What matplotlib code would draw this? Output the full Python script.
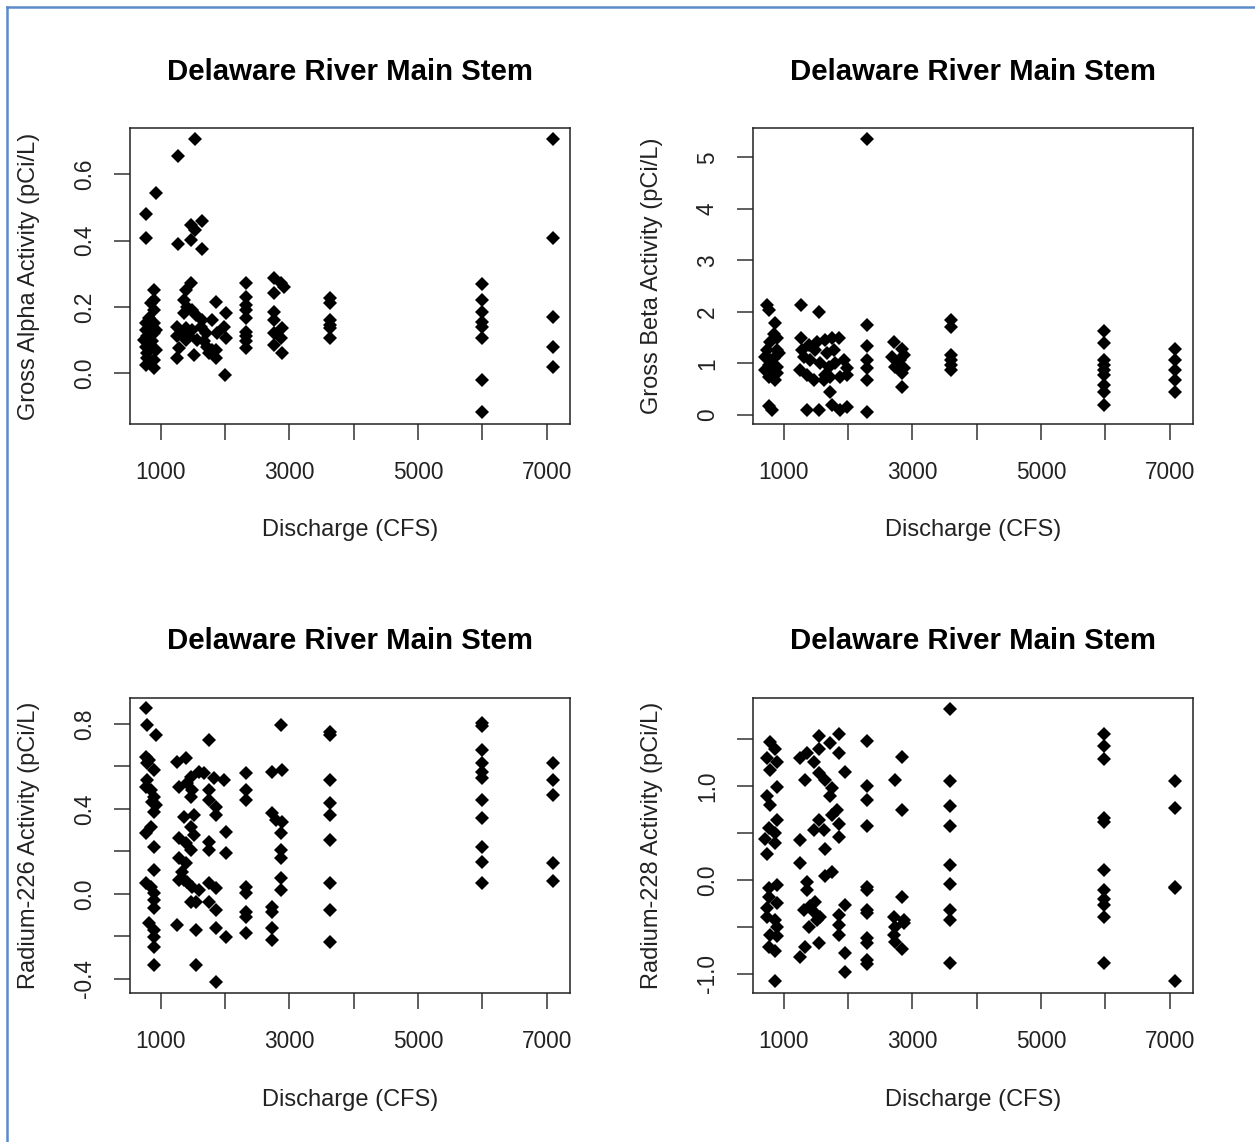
import matplotlib
matplotlib.use('Agg')
import matplotlib.pyplot as plt
from matplotlib.lines import Line2D

plt.rcParams['font.family'] = ['Liberation Sans', 'DejaVu Sans']

# Gross alpha vs discharge
alpha_q = [1528, 1269, 932, 777, 777, 1269, 1466, 1528, 1647, 1466, 1647,
           896, 896, 844, 896, 818, 767, 896, 844, 767, 896, 818, 767, 922, 792, 896, 767, 896,
           792, 870, 792, 922, 741,
           1466, 1388, 1362, 1414, 1492, 1362, 1544, 1647, 1259, 1388, 1492, 1621, 1259, 1388,
           1569, 1699, 1285, 1259, 1518, 1725, 1751, 1310, 1440, 1673, 1803,
           1854, 1803, 1880, 2010, 1984, 2010, 1854, 1854, 1999,
           2321, 2321, 2321, 2321, 2321, 2321, 2321, 2321, 2321,
           2761, 2864, 2916, 2761, 2761, 2761, 2890, 2761, 2864, 2761, 2890,
           3628, 3628, 3628, 3628, 3628, 3628,
           6000, 6000, 6000, 6000, 6000, 6000, 6000, 6000,
           7103, 7103, 7103, 7103, 7103]
alpha_val = [0.706, 0.657, 0.543, 0.480, 0.407, 0.390, 0.447, 0.432, 0.458, 0.402, 0.374,
             0.251, 0.221, 0.211, 0.191, 0.166, 0.151, 0.151, 0.141, 0.131, 0.121, 0.101, 0.080, 0.070, 0.060, 0.040, 0.025, 0.015,
             0.111, 0.096, 0.045, 0.131, 0.101,
             0.271, 0.251, 0.221, 0.201, 0.191, 0.181, 0.176, 0.161, 0.141, 0.136, 0.131, 0.141, 0.111, 0.101,
             0.101, 0.121, 0.075, 0.045, 0.055, 0.080, 0.060, 0.121, 0.111, 0.096, 0.070,
             0.216, 0.161, 0.121, 0.181, 0.141, 0.106, 0.070, 0.045, -0.005,
             0.271, 0.231, 0.206, 0.191, 0.166, 0.126, 0.111, 0.096, 0.075,
             0.287, 0.271, 0.261, 0.241, 0.186, 0.161, 0.136, 0.121, 0.106, 0.085, 0.060,
             0.226, 0.211, 0.161, 0.146, 0.136, 0.106,
             0.270, 0.220, 0.186, 0.156, 0.141, 0.106, -0.020, -0.116,
             0.706, 0.407, 0.171, 0.080, 0.020]

# Gross beta vs discharge
beta_q = [2295, 741, 767, 1269, 1544, 767, 818, 1362, 1544, 1725, 1751, 1880, 1984,
          2295, 2295, 2295, 2295, 2295, 2295,
          870, 844, 896, 792, 741, 896, 715, 844, 922, 767, 896, 715, 818, 870, 767, 792, 896,
          1269, 1285, 1388, 1518, 1647, 1751, 1854, 1310, 1414, 1569, 1699, 1803, 1932, 1984,
          1259, 1362, 1466, 1621, 1725, 1880, 1984, 1492, 1673, 1777, 1647,
          2709, 2838, 2864, 2683, 2813, 2735, 2864, 2838, 2838,
          3607, 3607, 3607, 3607, 3607, 3607,
          5974, 5974, 5974, 5974, 5974, 5974, 5974, 5974, 5974,
          7088, 7088, 7088, 7088, 7088]
beta_val = [5.35, 2.13, 2.04, 2.13, 1.99, 0.17, 0.10, 0.10, 0.10, 0.45, 0.19, 0.10, 0.16,
            0.06, 1.75, 1.33, 1.07, 0.91, 0.68,
            1.78, 1.58, 1.49, 1.42, 1.26, 1.26, 1.13, 1.10, 1.20, 0.97, 0.94, 0.87, 0.81, 0.68, 0.74, 1.07, 0.81,
            1.49, 1.26, 1.36, 1.42, 1.46, 1.49, 1.49, 1.13, 1.07, 1.00, 0.94, 1.00, 1.07, 0.91,
            0.87, 0.78, 0.68, 0.68, 0.74, 0.74, 0.78, 1.26, 1.20, 1.26, 0.78,
            1.42, 1.29, 1.16, 1.13, 1.07, 0.94, 0.91, 0.81, 0.55,
            1.84, 1.71, 1.16, 1.07, 0.97, 0.87,
            1.63, 1.40, 1.07, 0.97, 0.87, 0.78, 0.58, 0.45, 0.19,
            1.29, 1.07, 0.87, 0.68, 0.45]

# Radium-226 vs discharge
ra226_q = [767, 782, 922, 767, 818, 896, 792, 767, 844, 896, 922, 896, 844, 767, 896, 896,
           767, 844, 896, 896, 896, 818, 896, 896, 896, 896, 870, 792,
           1388, 1259, 1595, 1466, 1414, 1285, 1492, 1466, 1362, 1518, 1466, 1518, 1285, 1388,
           1466, 1285, 1388, 1285, 1414, 1492, 1595, 1466, 1544, 1259, 1544, 1544, 1362, 1336,
           1751, 1673, 1828, 1984, 1751, 1751, 1854, 1854, 2010, 1751, 1751, 2010, 1751, 1854,
           1751, 1854, 1854, 2010, 1854,
           2321, 2321, 2321, 2321, 2321, 2321, 2321, 2321,
           2864, 2735, 2890, 2735, 2787, 2890, 2864, 2864, 2864, 2864, 2864, 2735, 2735, 2735, 2735,
           3628, 3628, 3628, 3628, 3628, 3628, 3628, 3628, 3628,
           6000, 6000, 6000, 6000, 6000, 6000, 6000, 6000, 6000, 6000, 6000,
           7103, 7103, 7103, 7103, 7103]
ra226_val = [0.874, 0.795, 0.748, 0.646, 0.631, 0.584, 0.536, 0.505, 0.489, 0.458, 0.419, 0.387, 0.317, 0.285, 0.223, 0.113,
             0.050, 0.035, 0.003, -0.028, -0.067, -0.138, -0.169, -0.201, -0.248, -0.334, 0.435, 0.615,
             0.638, 0.623, 0.576, 0.552, 0.521, 0.505, 0.489, 0.458, 0.364, 0.372, 0.317, 0.278, 0.262, 0.238,
             0.207, 0.168, 0.144, 0.066, 0.058, 0.035, 0.019, -0.036, -0.036, -0.146, -0.169, -0.334, 0.066, 0.105,
             0.725, 0.568, 0.544, 0.536, 0.489, 0.442, 0.411, 0.372, 0.293, 0.246, 0.207, 0.191, 0.050, 0.027,
             -0.036, -0.075, -0.162, -0.201, -0.413,
             0.568, 0.489, 0.442, 0.035, 0.003, -0.083, -0.107, -0.185,
             0.795, 0.576, 0.584, 0.380, 0.348, 0.340, 0.285, 0.207, 0.168, 0.074, 0.019, -0.060, -0.083, -0.162, -0.216,
             0.764, 0.748, 0.536, 0.427, 0.372, 0.254, 0.050, -0.075, -0.224,
             0.803, 0.790, 0.678, 0.615, 0.576, 0.544, 0.442, 0.356, 0.223, 0.152, 0.053,
             0.618, 0.536, 0.466, 0.144, 0.063]

# Radium-228 vs discharge
ra228_q = [792, 870, 741, 896, 792, 896, 741, 792, 896, 767, 870, 715, 870, 741, 767, 896,
           767, 896, 741, 870, 792, 896, 767, 870, 870, 741, 896,
           1544, 1854, 1725, 1854, 1362, 1259, 1466, 1544, 1958, 1336, 1544, 1647, 1751, 1725,
           1828, 1751, 1854, 1544, 1466, 1621, 1854, 1259, 1647, 1259, 1751, 1647, 1362, 1362,
           1492, 1310, 1466, 1569, 1388, 1544, 1336, 1259, 1958, 1854, 1854, 1854, 1958, 1958, 1414, 1518,
           2295, 2295, 2295, 2295, 2295, 2295, 2295, 2295, 2295, 2295, 2295, 2295,
           2838, 2725, 2838, 2838, 2709, 2864, 2735, 2864, 2709, 2735, 2838,
           3591, 3591, 3591, 3591, 3591, 3591, 3591, 3591, 3591,
           5974, 5974, 5974, 5974, 5974, 5974, 5974, 5974, 5974, 5974, 5974,
           7088, 7088, 7088, 7088, 7088]
ra228_val = [1.47, 1.40, 1.30, 1.26, 1.17, 0.99, 0.89, 0.80, 0.64, 0.55, 0.50, 0.44, 0.39, 0.28, -0.09, -0.05,
             -0.18, -0.25, -0.39, -0.43, -0.59, -0.60, -0.71, -0.76, -1.08, -0.30, -0.50,
             1.53, 1.55, 1.46, 1.35, 1.35, 1.30, 1.26, 1.39, 1.15, 1.07, 1.14, 1.07, 0.98, 0.89,
             0.75, 0.69, 0.60, 0.64, 0.53, 0.53, 0.46, 0.43, 0.33, 0.18, 0.09, 0.04, -0.02, -0.11,
             -0.23, -0.32, -0.34, -0.39, -0.50, -0.67, -0.71, -0.82, -0.27, -0.37, -0.48, -0.59, -0.78, -0.98, -0.28, -0.43,
             1.48, 1.00, 0.85, 0.57, -0.07, -0.11, -0.32, -0.35, -0.62, -0.67, -0.85, -0.89,
             1.31, 1.07, 0.75, -0.18, -0.39, -0.43, -0.50, -0.46, -0.59, -0.66, -0.73,
             1.82, 1.05, 0.79, 0.57, 0.16, -0.04, -0.32, -0.43, -0.88,
             1.55, 1.43, 1.29, 0.66, 0.62, 0.11, -0.11, -0.20, -0.27, -0.39, -0.88,
             1.05, 0.77, -0.07, -0.09, -1.08]

x_ticks = [1000, 2000, 3000, 4000, 5000, 6000, 7000]
x_ticklabels = ['1000', '', '3000', '', '5000', '', '7000']
title = 'Delaware River Main Stem'
xlab = 'Discharge (CFS)'

panels = [
    (alpha_q, alpha_val, 'Gross Alpha Activity (pCi/L)', (-0.153, 0.740),
     [0.0, 0.2, 0.4, 0.6], ['0.0', '0.2', '0.4', '0.6']),
    (beta_q, beta_val, 'Gross Beta Activity (pCi/L)', (-0.175, 5.569),
     [0, 1, 2, 3, 4, 5], ['0', '1', '2', '3', '4', '5']),
    (ra226_q, ra226_val, 'Radium-226 Activity (pCi/L)', (-0.466, 0.922),
     [-0.4, -0.2, 0.0, 0.2, 0.4, 0.6, 0.8], ['-0.4', '', '0.0', '', '0.4', '', '0.8']),
    (ra228_q, ra228_val, 'Radium-228 Activity (pCi/L)', (-1.203, 1.938),
     [-1.0, -0.5, 0.0, 0.5, 1.0, 1.5], ['-1.0', '', '0.0', '', '1.0', '']),
]

W, H = 1255, 1142
fig = plt.figure(figsize=(W / 100, H / 100), dpi=100)

# axes boxes in pixels: left, top, right, bottom, title centre, x-label centre
boxes = [(130, 128, 570, 424, 72, 530), (753, 128, 1193, 424, 72, 530),
         (130, 698, 570, 993, 641, 1100), (753, 698, 1193, 993, 641, 1100)]

for (q, val, ylab, ylim, yt, ytl), (l, t, r, b, tc, xc) in zip(panels, boxes):
    h = b - t
    ax = fig.add_axes([l / W, 1 - b / H, (r - l) / W, h / H])
    ax.plot(q, val, linestyle='none', marker='D', markersize=7.0,
            color='black', markeredgewidth=0)
    ax.set_xlim(525, 7360)
    ax.set_ylim(*ylim)
    ax.set_xticks(x_ticks)
    ax.set_xticklabels(x_ticklabels)
    ax.set_yticks(yt)
    ax.set_yticklabels(ytl, rotation=90, va='center')
    ax.tick_params(direction='out', length=11.5, width=1.1, color='#333333',
                   labelsize=16.3, labelcolor='#222222')
    ax.tick_params(axis='x', pad=15)
    ax.tick_params(axis='y', pad=13)
    for s in ax.spines.values():
        s.set_linewidth(1.1)
        s.set_color('#222222')
    ax.text(0.5, (b - tc) / h, title, transform=ax.transAxes,
            ha='center', va='center', fontsize=21.2, fontweight='bold')
    ax.set_xlabel(xlab, fontsize=17, color='#222222')
    ax.xaxis.set_label_coords(0.5, (b - xc) / h)
    ax.xaxis.label.set_va('center')
    ax.set_ylabel(ylab, fontsize=17, color='#222222')
    ax.yaxis.set_label_coords(-101 / (r - l), 0.5)
    ax.yaxis.label.set_va('center')

# blue frame of the screenshot
blue = '#5b8bc9'
fig.add_artist(Line2D([7 / W, 7 / W], [0, 1 - 7 / H], color=blue, linewidth=1.8))
fig.add_artist(Line2D([7 / W, 1], [1 - 7 / H, 1 - 7 / H], color=blue, linewidth=1.8))

fig.savefig('out.png', dpi=100)
